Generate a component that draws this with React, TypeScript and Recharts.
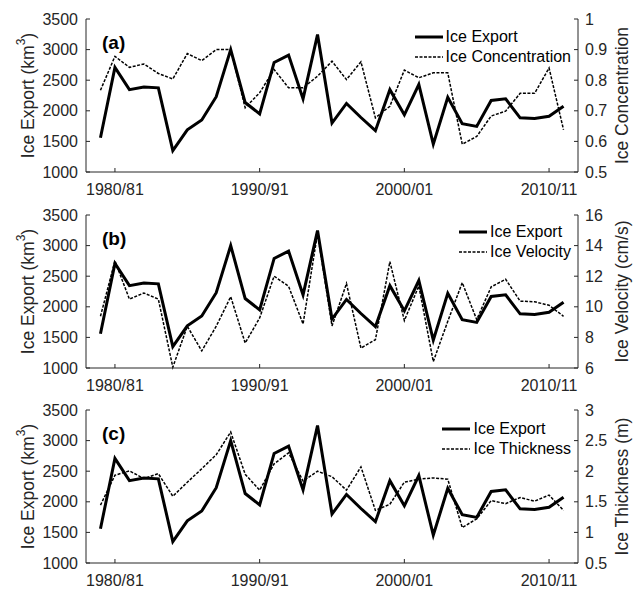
import { LineChart, Line, XAxis, YAxis, Legend } from 'recharts';

const years = [
  1979, 1980, 1981, 1982, 1983, 1984, 1985, 1986, 1987, 1988, 1989,
  1990, 1991, 1992, 1993, 1994, 1995, 1996, 1997, 1998, 1999, 2000,
  2001, 2002, 2003, 2004, 2005, 2006, 2007, 2008, 2009, 2010, 2011,
];

const iceExport = [
  1560, 2710, 2345, 2390, 2375, 1350, 1690, 1850, 2230, 3000, 2135,
  1950, 2790, 2910, 2195, 3245, 1800, 2120, 1890, 1675, 2345, 1935,
  2430, 1455, 2220, 1790, 1745, 2170, 2195, 1885, 1875, 1910, 2075,
];

const iceConcentration = [
  0.767, 0.878, 0.842, 0.853, 0.822, 0.804, 0.887, 0.864, 0.9, 0.9, 0.71,
  0.759, 0.835, 0.775, 0.775, 0.813, 0.862, 0.802, 0.86, 0.677, 0.715, 0.833,
  0.808, 0.824, 0.824, 0.591, 0.616, 0.683, 0.699, 0.757, 0.757, 0.84, 0.638,
];

const iceVelocity = [
  9.38, 13.0, 10.5, 10.9, 10.5, 6.05, 8.73, 7.12, 8.73, 10.66, 7.63,
  9.27, 12.0, 11.34, 8.88, 14.8, 8.75, 11.52, 7.3, 7.85, 12.95, 9.1,
  11.36, 6.42, 9.05, 11.58, 9.16, 11.3, 11.8, 10.37, 10.33, 10.1, 9.38,
];

const iceThickness = [
  1.445, 1.934, 2.005, 1.88, 1.96, 1.59, 1.82, 2.04, 2.27, 2.64, 1.95,
  1.69, 2.12, 2.3, 1.84, 2.0, 1.91, 1.69, 2.07, 1.36, 1.46, 1.82,
  1.87, 1.89, 1.87, 1.08, 1.22, 1.52, 1.47, 1.57, 1.51, 1.61, 1.36,
];

const xTicks = [1980, 1990, 2000, 2010];
const xTickLabels = ['1980/81', '1990/91', '2000/01', '2010/11'];
const exportTicks = [1000, 1500, 2000, 2500, 3000, 3500];

const FONT = '"Liberation Sans", Arial, sans-serif';
const AXIS = '#262626';

const LegendBox = ({ payload }: any) => {
  const items = [...(payload || [])].sort((a: any, b: any) => (a.dataKey === 'exp' ? -1 : 1) - (b.dataKey === 'exp' ? -1 : 1));
  return (
    <div style={{ display: 'flex', flexDirection: 'column', fontFamily: FONT, fontSize: 16, color: '#000' }}>
      {items.map((p: any) => {
        const dashed = p.dataKey !== 'exp';
        return (
          <div key={p.value} style={{ display: 'flex', alignItems: 'center', height: 20 }}>
            <svg width={28} height={6} style={{ marginRight: 3 }}>
              <line
                x1={0} y1={3} x2={28} y2={3}
                stroke="#000"
                strokeWidth={dashed ? 1.5 : 3}
                strokeDasharray={dashed ? '3 1.5' : undefined}
              />
            </svg>
            <span>{p.value}</span>
          </div>
        );
      })}
    </div>
  );
};

const sideLabel = (text: string, sup: string | null, dx: number) => (props: any) => {
  const vb = props.viewBox;
  const cx = vb.x + dx;
  const cy = vb.y + vb.height / 2;
  return (
    <text
      x={cx}
      y={cy}
      transform={`rotate(-90 ${cx} ${cy})`}
      textAnchor="middle"
      dominantBaseline="central"
      fontFamily={FONT}
      fontSize={17.5}
      fill={AXIS}
    >
      {text}
      {sup && (
        <>
          <tspan dy={-7} fontSize={12}>{sup}</tspan>
          <tspan dy={7}>)</tspan>
        </>
      )}
    </text>
  );
};

type PanelProps = {
  top: number;
  tag: string;
  rightName: string;
  rightValues: number[];
  rightDomain: [number, number];
  rightTicks: number[];
  rightLabel: string;
  legendTop: number;
};

const Panel = ({ top, tag, rightName, rightValues, rightDomain, rightTicks, rightLabel, legendTop }: PanelProps) => {
  const data = years.map((y, i) => ({ year: y, exp: iceExport[i], right: rightValues[i] }));
  const tickStyle = { fontFamily: FONT, fontSize: 16, fill: AXIS };
  return (
    <div style={{ position: 'absolute', left: 0, top, width: 640, height: 198 }}>
      <LineChart width={640} height={198} data={data} margin={{ top: 19, right: 0, bottom: 0, left: 0 }}>
        <XAxis
          xAxisId="b"
          dataKey="year"
          type="number"
          domain={[1978, 2012]}
          ticks={xTicks}
          interval={0}
          tickFormatter={(v: number) => xTickLabels[xTicks.indexOf(v)]}
          height={26}
          tickSize={-4}
          tickMargin={16}
          stroke={AXIS}
          tick={tickStyle}
        />
        <XAxis
          xAxisId="t"
          orientation="top"
          dataKey="year"
          type="number"
          domain={[1978, 2012]}
          ticks={xTicks}
          interval={0}
          tickFormatter={() => ''}
          height={0}
          tickSize={-4}
          stroke={AXIS}
        />
        <YAxis
          yAxisId="l"
          domain={[1000, 3500]}
          ticks={exportTicks}
          interval={0}
          width={86}
          tickSize={-4}
          tickMargin={12}
          stroke={AXIS}
          tick={tickStyle}
          label={{ content: sideLabel('Ice Export (km', '3', 28) }}
        />
        <YAxis
          yAxisId="r"
          orientation="right"
          domain={rightDomain}
          ticks={rightTicks}
          interval={0}
          width={62}
          tickSize={-4}
          tickMargin={11}
          stroke={AXIS}
          tick={tickStyle}
          label={{ content: sideLabel(rightLabel, null, 44) }}
        />
        <Line
          xAxisId="b"
          yAxisId="l"
          dataKey="exp"
          name="Ice Export"
          stroke="#000"
          strokeWidth={3}
          dot={false}
          isAnimationActive={false}
        />
        <Line
          xAxisId="b"
          yAxisId="r"
          dataKey="right"
          name={rightName}
          stroke="#000"
          strokeWidth={1.5}
          strokeDasharray="3 1.5"
          dot={false}
          isAnimationActive={false}
        />
        <Legend
          layout="vertical"
          align="center"
          verticalAlign="middle"
          content={<LegendBox />}
          wrapperStyle={{ top: legendTop, right: 69, left: 'auto', width: 'auto', bottom: 'auto' }}
        />
      </LineChart>
      <div
        style={{
          position: 'absolute',
          left: 102,
          top: 31,
          fontFamily: FONT,
          fontWeight: 'bold',
          fontSize: 19,
          color: '#000',
          lineHeight: '24px',
        }}
      >
        {tag}
      </div>
    </div>
  );
};

export default function App() {
  return (
    <div style={{ position: 'absolute', left: 0, top: 0, width: 640, height: 590, background: '#fff' }}>
      <Panel
        top={0}
        tag="(a)"
        rightName="Ice Concentration"
        rightValues={iceConcentration}
        rightDomain={[0.5, 1]}
        rightTicks={[0.5, 0.6, 0.7, 0.8, 0.9, 1]}
        rightLabel="Ice Concentration"
        legendTop={27}
      />
      <Panel
        top={196}
        tag="(b)"
        rightName="Ice Velocity"
        rightValues={iceVelocity}
        rightDomain={[6, 16]}
        rightTicks={[6, 8, 10, 12, 14, 16]}
        rightLabel="Ice Velocity (cm/s)"
        legendTop={26}
      />
      <Panel
        top={391}
        tag="(c)"
        rightName="Ice Thickness"
        rightValues={iceThickness}
        rightDomain={[0.5, 3]}
        rightTicks={[0.5, 1, 1.5, 2, 2.5, 3]}
        rightLabel="Ice Thickness (m)"
        legendTop={28}
      />
    </div>
  );
}
